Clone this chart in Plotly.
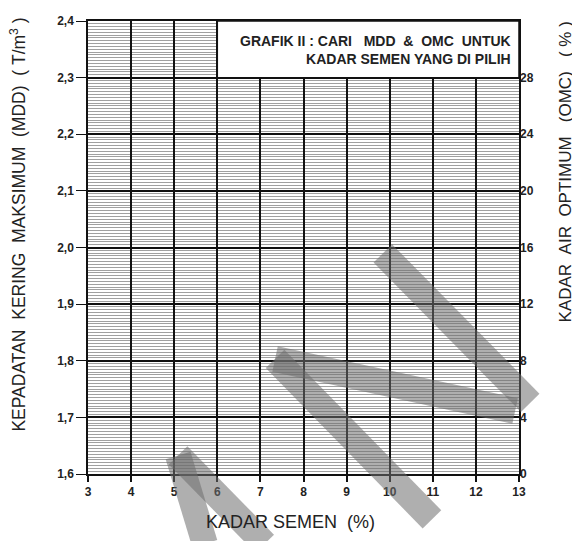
import plotly.graph_objects as go

# cement content (%) on the x axis
kadar_semen = [3, 4, 5, 6, 7, 8, 9, 10, 11, 12, 13]
# max dry density MDD (T/m3), left axis
mdd_ticks = [1.6, 1.7, 1.8, 1.9, 2.0, 2.1, 2.2, 2.3, 2.4]
mdd_labels = ["1,6", "1,7", "1,8", "1,9", "2,0", "2,1", "2,2", "2,3", "2,4"]
# optimum moisture content OMC (%), right axis
omc_ticks = [0, 4, 8, 12, 16, 20, 24, 28]
omc_labels = [str(v) for v in omc_ticks]

font = "Liberation Sans"
ink = "#222"
sp = "\u00a0"  # keep the wide gaps of the scan

fig = go.Figure()
# empty helper traces so both y axes get drawn
fig.add_trace(go.Scatter(x=[kadar_semen[0]], y=[mdd_ticks[0]], mode="markers",
                         marker=dict(opacity=0), showlegend=False, hoverinfo="skip"))
fig.add_trace(go.Scatter(x=[kadar_semen[0]], y=[omc_ticks[0]], yaxis="y2", mode="markers",
                         marker=dict(opacity=0), showlegend=False, hoverinfo="skip"))

tickfont = dict(size=12, family=font, color=ink, weight="bold")

fig.update_layout(
    width=580, height=541,
    margin=dict(l=80, r=69, t=6, b=75),
    paper_bgcolor="white", plot_bgcolor="white",
    showlegend=False,
    font=dict(family=font, color=ink, size=11),
    xaxis=dict(
        range=[3, 13], tickvals=kadar_semen, ticktext=[str(v) for v in kadar_semen],
        showgrid=True, gridcolor="#111", gridwidth=1.5, zeroline=False,
        showline=True, linecolor="#111", linewidth=1.5, mirror=True,
        ticks="outside", ticklen=6, tickcolor="#111", tickwidth=1.5,
        tickfont=tickfont,
    ),
    yaxis=dict(
        range=[1.6, 2.4], tickvals=mdd_ticks, ticktext=mdd_labels,
        showgrid=True, gridcolor="#111", gridwidth=1.5, zeroline=False,
        showline=True, linecolor="#111", linewidth=1.5, mirror=True,
        ticks="outside", ticklen=10, tickcolor="#111", tickwidth=1.2,
        tickfont=tickfont,
        minor=dict(dtick=0.005, showgrid=True, gridcolor="#a0a0a0", gridwidth=1),
    ),
    yaxis2=dict(
        range=[0, 32], tickvals=omc_ticks, ticktext=omc_labels,
        overlaying="y", side="right", showgrid=False, zeroline=False,
        ticks="", tickfont=tickfont,
    ),
)

# title box in the top right corner
fig.add_shape(type="rect", xref="x", yref="y", x0=6, x1=13, y0=2.3, y1=2.4,
              fillcolor="white", line=dict(color="#111", width=1.5), layer="above")
fig.add_annotation(xref="x", yref="y", x=12.85, y=2.349, xanchor="right", yanchor="middle",
                   align="right", showarrow=False,
                   text=f"GRAFIK II : CARI{sp*3}MDD{sp*2}&amp;{sp*2}OMC{sp*2}UNTUK<br>"
                        f"KADAR SEMEN YANG DI PILIH",
                   font=dict(family=font, size=14, color=ink, weight="bold"))

# axis titles
titlefont = dict(size=17.5, family=font, color=ink)
fig.add_annotation(xref="paper", yref="paper", x=-0.163, y=0.55, textangle=-90,
                   showarrow=False, xanchor="center", yanchor="middle",
                   text=f"KEPADATAN{sp*2}KERING{sp*2}MAKSIMUM{sp*2}(MDD){sp*2}({sp}T/m<sup>3</sup>{sp})",
                   font=titlefont)
fig.add_annotation(xref="paper", yref="paper", x=1.107, y=0.666, textangle=-90,
                   showarrow=False, xanchor="center", yanchor="middle",
                   text=f"KADAR{sp*2}AIR{sp*2}OPTIMUM{sp*3}(OMC){sp*3}({sp}%{sp})",
                   font=dict(size=17, family=font, color=ink))
fig.add_annotation(xref="paper", yref="paper", x=0.469, y=-0.107,
                   showarrow=False, xanchor="center", yanchor="middle",
                   text=f"KADAR SEMEN{sp*2}(%)", font=dict(size=18, family=font, color=ink))

# grey watermark strokes over the scan
wm = dict(color="rgba(110,110,110,0.55)", width=26)
for x0, y0, x1, y1 in [(0.684, 0.487, 1.026, 0.157),
                       (0.434, 0.254, 0.991, 0.139),
                       (0.434, 0.254, 0.798, -0.10),
                       (0.209, 0.041, 0.271, -0.154),
                       (0.209, 0.041, 0.41, -0.154)]:
    fig.add_shape(type="line", xref="paper", yref="paper", x0=x0, y0=y0, x1=x1, y1=y1,
                  line=wm, layer="above")

fig.write_html("out.html")
